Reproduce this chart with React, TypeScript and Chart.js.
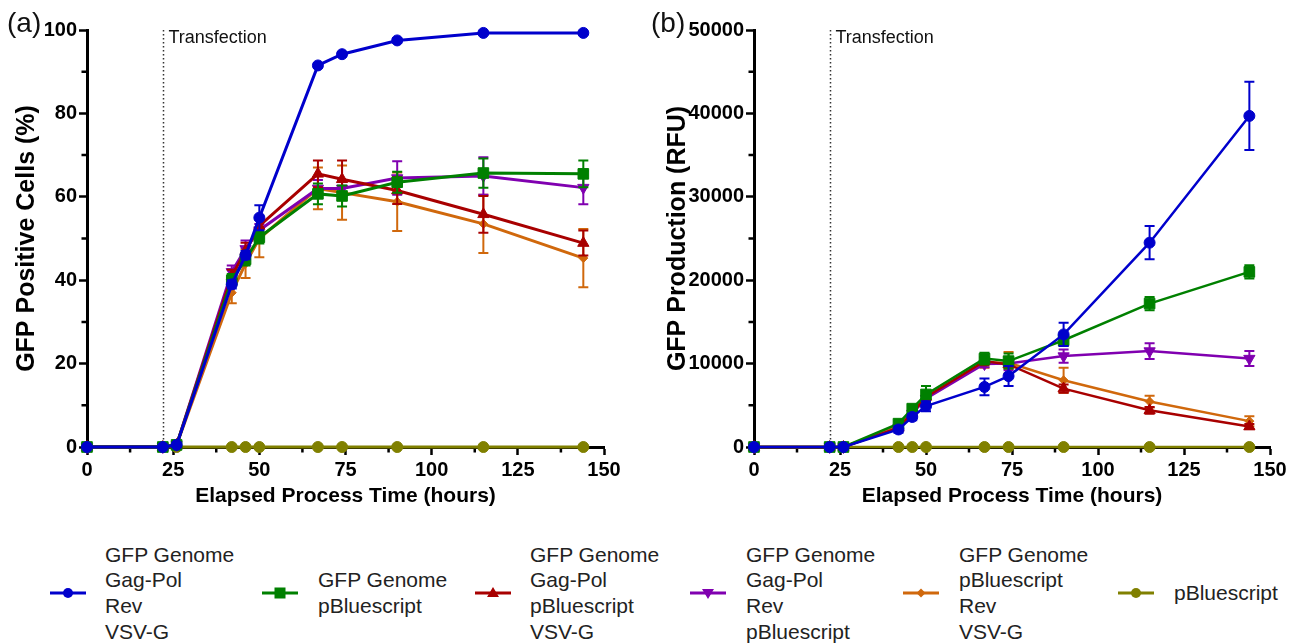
import React, { useEffect, useRef } from 'react';
import { Chart, registerables } from 'chart.js';

Chart.register(...registerables);

const FONT = '"Liberation Sans", Arial, Helvetica, sans-serif';

// ---------------- data ----------------
const times = [0, 22, 26, 42, 46, 50, 67, 74, 90, 115, 144];

const seriesNames = [
  'GFP Genome Gag-Pol Rev VSV-G',
  'GFP Genome pBluescript',
  'GFP Genome Gag-Pol pBluescript VSV-G',
  'GFP Genome Gag-Pol Rev pBluescript',
  'GFP Genome pBluescript Rev VSV-G',
  'pBluescript',
];
const legendLines = [
  ['GFP Genome', 'Gag-Pol', 'Rev', 'VSV-G'],
  ['GFP Genome', 'pBluescript'],
  ['GFP Genome', 'Gag-Pol', 'pBluescript', 'VSV-G'],
  ['GFP Genome', 'Gag-Pol', 'Rev', 'pBluescript'],
  ['GFP Genome', 'pBluescript', 'Rev', 'VSV-G'],
  ['pBluescript'],
];
const seriesColors = ['#0000CC', '#008000', '#A80000', '#8000B0', '#D0680C', '#808000'];

// Panel (a): GFP positive cells (%)
const blueA = [0, 0, 0.5, 39, 46, 55, 91.5, 94.2, 97.5, 99.3, 99.3];
const blueAErr = [0, 0, 0, 1, 1, 3, 0.5, 0.5, 0.5, 0.3, 0.3];
const greenA = [0, 0, 0.5, 40, 45, 50.3, 60.7, 60.2, 63.5, 65.7, 65.5];
const greenAErr = [0, 0, 0, 1.5, 1.5, 1.5, 2.5, 2.5, 2.5, 3.5, 3.2];
const redA = [0, 0, 0.5, 41, 47, 53, 65.5, 64.2, 61.5, 55.8, 48.9];
const redAErr = [0, 0, 0, 1.5, 2, 2, 3.2, 4.5, 3.2, 4.4, 3];
const purpleA = [0, 0, 0.5, 42, 47.5, 52, 62, 62, 64.5, 65, 62.2];
const purpleAErr = [0, 0, 0, 1.5, 2, 1.5, 2, 2, 4, 4.5, 4];
const orangeA = [0, 0, 0.5, 37, 44, 50, 62, 61, 58.8, 53.5, 45.3];
const orangeAErr = [0, 0, 0, 2.5, 3.5, 4.5, 5, 6.5, 7, 7, 7];
const oliveA = [0, 0, 0, 0, 0, 0, 0, 0, 0, 0, 0];
const oliveAErr = [0, 0, 0, 0, 0, 0, 0, 0, 0, 0, 0];

// Panel (b): GFP production (RFU)
const blueB = [0, 0, 0, 2100, 3600, 4900, 7200, 8500, 13500, 24500, 39700];
const blueBErr = [0, 0, 0, 400, 400, 600, 1000, 1200, 1400, 2000, 4100];
const greenB = [0, 0, 0, 2800, 4600, 6300, 10600, 10300, 12800, 17200, 21000];
const greenBErr = [0, 0, 0, 300, 400, 1000, 700, 900, 700, 800, 800];
const redB = [0, 0, 0, 2300, 4100, 6000, 10300, 9900, 7000, 4400, 2450];
const redBErr = [0, 0, 0, 300, 300, 400, 500, 500, 500, 400, 300];
const purpleB = [0, 0, 0, 2300, 4000, 5800, 9950, 10000, 10900, 11500, 10600];
const purpleBErr = [0, 0, 0, 300, 300, 400, 400, 800, 800, 950, 900];
const orangeB = [0, 0, 0, 2500, 4200, 6000, 10100, 10100, 8000, 5450, 3100];
const orangeBErr = [0, 0, 0, 300, 300, 500, 600, 1300, 1500, 700, 600];
const oliveB = [0, 0, 0, 0, 0, 0, 0, 0, 0, 0, 0];
const oliveBErr = [0, 0, 0, 0, 0, 0, 0, 0, 0, 0, 0];

const xMajorStep = 25;
const xMinorTicks = [12.5, 37.5, 62.5, 87.5, 112.5, 137.5];
const yMinorTicksA = [10, 30, 50, 70, 90];
const yMinorTicksB = [5000, 15000, 25000, 35000, 45000];
const transfectionTime = 22;

// ---------------- marker styles ----------------
const pointStyles: any[] = ['circle', 'rect', 'triangle', 'triangle', 'rectRot', 'circle'];
const pointRotations = [0, 0, 0, 180, 0, 0];
const pointRadii = [5.5, 7.5, 6.5, 6.5, 4.5, 5.5];

// ---------------- plugins ----------------
const errorBarPlugin = {
  id: 'errorBars',
  afterDatasetDraw(chart: any, args: any) {
    const ds = chart.data.datasets[args.index];
    const errs = ds.errors;
    if (!errs) return;
    const xs = chart.scales.x;
    const ys = chart.scales.y;
    const ctx = chart.ctx;
    ctx.save();
    ctx.strokeStyle = ds.borderColor;
    ctx.lineWidth = 2;
    ds.data.forEach((p: any, i: number) => {
      const e = errs[i];
      if (!e) return;
      const x = xs.getPixelForValue(p.x);
      const yt = ys.getPixelForValue(p.y + e);
      const yb = ys.getPixelForValue(p.y - e);
      ctx.beginPath();
      ctx.moveTo(x, yt);
      ctx.lineTo(x, yb);
      ctx.moveTo(x - 5, yt);
      ctx.lineTo(x + 5, yt);
      ctx.moveTo(x - 5, yb);
      ctx.lineTo(x + 5, yb);
      ctx.stroke();
    });
    ctx.restore();
  },
};

const decorPlugin = {
  id: 'decor',
  beforeDatasetsDraw(chart: any, _args: any, opts: any) {
    const ctx = chart.ctx;
    const xs = chart.scales.x;
    const ys = chart.scales.y;
    const area = chart.chartArea;
    ctx.save();
    // minor ticks
    ctx.strokeStyle = '#000';
    ctx.lineWidth = 2.5;
    ctx.beginPath();
    (opts.minorX || []).forEach((v: number) => {
      const x = xs.getPixelForValue(v);
      ctx.moveTo(x, area.bottom);
      ctx.lineTo(x, area.bottom + 5.5);
    });
    (opts.minorY || []).forEach((v: number) => {
      const y = ys.getPixelForValue(v);
      ctx.moveTo(area.left, y);
      ctx.lineTo(area.left - 5.5, y);
    });
    ctx.stroke();
    // transfection marker
    const tx = Math.round(xs.getPixelForValue(opts.transX)) + 0.5;
    ctx.setLineDash([1.5, 2.5]);
    ctx.lineWidth = 1.5;
    ctx.strokeStyle = '#333';
    ctx.beginPath();
    ctx.moveTo(tx, area.top);
    ctx.lineTo(tx, area.bottom);
    ctx.stroke();
    ctx.setLineDash([]);
    ctx.fillStyle = '#111';
    ctx.font = '18px ' + FONT;
    ctx.textBaseline = 'middle';
    ctx.textAlign = 'left';
    ctx.fillText(opts.label, tx + 5, area.top + 8);
    ctx.restore();
  },
};

function makeDatasets(values: number[][], errors: number[][], lineWidth: number) {
  return values.map((vals, s) => ({
    label: seriesNames[s],
    data: times.map((t, i) => ({ x: t, y: vals[i] })),
    errors: errors[s],
    borderColor: seriesColors[s],
    backgroundColor: seriesColors[s],
    pointBackgroundColor: seriesColors[s],
    pointBorderColor: seriesColors[s],
    pointBorderWidth: 1,
    pointStyle: pointStyles[s],
    pointRotation: pointRotations[s],
    pointRadius: pointRadii[s],
    borderWidth: lineWidth,
    tension: 0,
    clip: false as any,
  }));
}

function makeConfig(opts: {
  datasets: any[];
  yMax: number;
  yStep: number;
  yTitle: string;
  yMinor: number[];
  yAxisWidth: number;
  yTitlePad: number;
  rightPad: number;
}): any {
  const tickFont = { family: FONT, size: 20, weight: 'bold' as const };
  return {
    type: 'line',
    data: { datasets: opts.datasets },
    options: {
      animation: false,
      responsive: false,
      maintainAspectRatio: false,
      layout: { padding: { left: 0, top: 30, right: opts.rightPad, bottom: 0 } },
      plugins: {
        legend: { display: false },
        tooltip: { enabled: false },
        decor: { minorX: xMinorTicks, minorY: opts.yMinor, transX: transfectionTime, label: 'Transfection' },
      },
      scales: {
        x: {
          type: 'linear',
          min: 0,
          max: 150,
          ticks: {
            stepSize: xMajorStep,
            color: '#000',
            font: tickFont,
            padding: 3,
            maxRotation: 0,
            autoSkip: false,
            callback: (v: any) => String(v),
          },
          grid: { drawOnChartArea: false, drawTicks: true, tickLength: 8, tickWidth: 2.5, tickColor: '#000' },
          border: { display: true, color: '#000', width: 3 },
          title: {
            display: true,
            text: 'Elapsed Process Time (hours)',
            color: '#000',
            font: { family: FONT, size: 21, weight: 'bold' },
            padding: { top: 0, bottom: 11 },
          },
          afterFit: (s: any) => {
            s.height = 73;
          },
        },
        y: {
          type: 'linear',
          min: 0,
          max: opts.yMax,
          ticks: {
            stepSize: opts.yStep,
            color: '#000',
            font: tickFont,
            padding: 2,
            callback: (v: any) => String(v),
          },
          grid: { drawOnChartArea: false, drawTicks: true, tickLength: 8, tickWidth: 2.5, tickColor: '#000' },
          border: { display: true, color: '#000', width: 3 },
          title: {
            display: true,
            text: opts.yTitle,
            color: '#000',
            font: { family: FONT, size: 25, weight: 'bold' },
            padding: { top: opts.yTitlePad, bottom: 0 },
          },
          afterFit: (s: any) => {
            s.width = opts.yAxisWidth;
          },
        },
      },
    },
    plugins: [errorBarPlugin, decorPlugin],
  };
}

function LegendSwatch({ idx }: { idx: number }) {
  const c = seriesColors[idx];
  const cx = 18;
  const cy = 8;
  let marker: any = null;
  if (idx === 0 || idx === 5) marker = <circle cx={cx} cy={cy} r={5} fill={c} />;
  else if (idx === 1) marker = <rect x={cx - 5.5} y={cy - 5.5} width={11} height={11} fill={c} />;
  else if (idx === 2) marker = <polygon points={`${cx},${cy - 6} ${cx + 6},${cy + 4} ${cx - 6},${cy + 4}`} fill={c} />;
  else if (idx === 3) marker = <polygon points={`${cx},${cy + 6} ${cx + 6},${cy - 4} ${cx - 6},${cy - 4}`} fill={c} />;
  else marker = <polygon points={`${cx},${cy - 4.5} ${cx + 4.5},${cy} ${cx},${cy + 4.5} ${cx - 4.5},${cy}`} fill={c} />;
  return (
    <svg width={36} height={16} style={{ display: 'block' }}>
      <line x1={0} y1={cy} x2={36} y2={cy} stroke={c} strokeWidth={3} />
      {marker}
    </svg>
  );
}

const legendSwatchX = [50, 262, 475, 690, 903, 1118];
const legendTextX = [105, 318, 530, 746, 959, 1174];

export default function App() {
  const refA = useRef<HTMLCanvasElement>(null);
  const refB = useRef<HTMLCanvasElement>(null);

  useEffect(() => {
    const chartA = new Chart(
      refA.current as HTMLCanvasElement,
      makeConfig({
        datasets: makeDatasets(
          [blueA, greenA, redA, purpleA, orangeA, oliveA],
          [blueAErr, greenAErr, redAErr, purpleAErr, orangeAErr, oliveAErr],
          3
        ),
        yMax: 100,
        yStep: 20,
        yTitle: 'GFP Positive Cells (%)',
        yMinor: yMinorTicksA,
        yAxisWidth: 87,
        yTitlePad: 12,
        rightPad: 41,
      })
    );
    const chartB = new Chart(
      refB.current as HTMLCanvasElement,
      makeConfig({
        datasets: makeDatasets(
          [blueB, greenB, redB, purpleB, orangeB, oliveB],
          [blueBErr, greenBErr, redBErr, purpleBErr, orangeBErr, oliveBErr],
          2.5
        ),
        yMax: 50000,
        yStep: 10000,
        yTitle: 'GFP Production (RFU)',
        yMinor: yMinorTicksB,
        yAxisWidth: 105,
        yTitlePad: 14,
        rightPad: 28,
      })
    );
    return () => {
      chartA.destroy();
      chartB.destroy();
    };
  }, []);

  const lineH = 25.7;
  const legendCenter = 593;

  return (
    <div
      style={{
        position: 'absolute',
        left: 0,
        top: 0,
        width: 1298,
        height: 644,
        background: '#fff',
        overflow: 'hidden',
        fontFamily: FONT,
      }}
    >
      <canvas ref={refA} width={645} height={520} style={{ position: 'absolute', left: 0, top: 0 }} />
      <canvas ref={refB} width={649} height={520} style={{ position: 'absolute', left: 649, top: 0 }} />
      <div style={{ position: 'absolute', left: 7, top: 7, fontSize: 28, color: '#111', lineHeight: '32px' }}>(a)</div>
      <div style={{ position: 'absolute', left: 651, top: 7, fontSize: 28, color: '#111', lineHeight: '32px' }}>(b)</div>
      {legendLines.map((lines, i) => (
        <React.Fragment key={i}>
          <div style={{ position: 'absolute', left: legendSwatchX[i], top: legendCenter - 8 }}>
            <LegendSwatch idx={i} />
          </div>
          <div
            style={{
              position: 'absolute',
              left: legendTextX[i],
              top: legendCenter - (lines.length * lineH) / 2,
              fontSize: 21,
              lineHeight: lineH + 'px',
              color: '#222',
              whiteSpace: 'nowrap',
            }}
          >
            {lines.map((l, k) => (
              <div key={k}>{l}</div>
            ))}
          </div>
        </React.Fragment>
      ))}
    </div>
  );
}
